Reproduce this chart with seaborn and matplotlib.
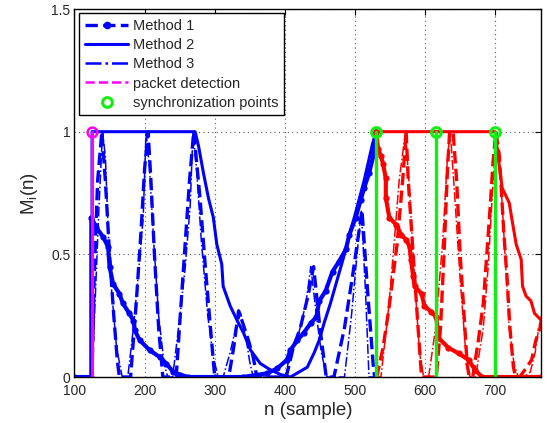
import matplotlib
matplotlib.use('Agg')
import matplotlib.pyplot as plt
from matplotlib.lines import Line2D
import seaborn as sns

# ---- data ----
# first packet (blue), n < 530
blue_m1_x = [100, 124, 124, 131, 141, 148, 150, 155, 164, 169, 178, 184, 186, 193, 207, 222, 231, 241, 250,
             262, 300, 340, 375, 389, 403, 408, 418, 427, 437, 445, 449, 458, 468, 477, 487, 492, 501, 508,
             513, 520, 527, 530]
blue_m1_y = [0, 0, 0.65, 0.61, 0.57, 0.53, 0.45, 0.38, 0.34, 0.30, 0.26, 0.23, 0.19, 0.15, 0.11, 0.08, 0.055,
             0.02, 0.01, 0.0, 0.0, 0.0, 0.015, 0.035, 0.07, 0.11, 0.15, 0.18, 0.22, 0.245, 0.31, 0.35, 0.43,
             0.47, 0.52, 0.58, 0.65, 0.72, 0.77, 0.83, 0.91, 1.0]
blue_m2_x = [100, 125, 125, 272, 277, 284, 291, 298, 303, 310, 312, 322, 332, 341, 351, 365, 379, 394, 408,
             432, 442, 449, 456, 465, 475, 483, 492, 500, 513, 525, 530]
blue_m2_y = [0, 0, 1, 1, 0.94, 0.83, 0.73, 0.65, 0.54, 0.46, 0.37, 0.29, 0.23, 0.18, 0.11, 0.055, 0.03, 0.01,
             0.0, 0.04, 0.1, 0.15, 0.22, 0.3, 0.4, 0.48, 0.58, 0.66, 0.8, 0.95, 1.0]
blue_m3_x = [100, 125, 130, 135, 140, 144, 148, 153, 160, 168, 176, 184, 192, 198, 202, 207, 213, 220, 228,
             233, 240, 250, 258, 265, 269, 274, 281, 290, 298, 305, 312, 322, 330, 337, 345, 350, 355, 400,
             410, 420, 430, 437, 445, 452, 460, 485, 495, 503, 509, 515, 520, 530]
blue_m3_y = [0, 0, 0.35, 0.7, 1.0, 0.9, 0.6, 0.35, 0.12, 0, 0, 0.2, 0.45, 0.65, 1.0, 0.85, 0.55, 0.25, 0.05,
             0, 0, 0.24, 0.45, 0.7, 1.0, 0.85, 0.55, 0.25, 0.08, 0, 0, 0.1, 0.2, 0.26, 0.15, 0.06, 0, 0,
             0.12, 0.18, 0.3, 0.45, 0.25, 0.1, 0, 0, 0.25, 0.5, 0.68, 0.35, 0, 0]
blue_d_x = [100, 125, 128, 133, 139, 144, 150, 156, 161, 164, 180, 188, 195, 200, 205, 209, 214, 220, 226,
            245, 252, 258, 264, 270, 275, 279, 286, 293, 300, 320, 327, 334, 340, 348, 355, 360, 402, 412,
            422, 433, 441, 450, 459, 470, 485, 497, 510, 518, 526, 528, 530]
blue_d_y = [0, 0, 0.4, 0.8, 1.0, 0.8, 0.5, 0.25, 0.07, 0, 0, 0.3, 0.6, 0.85, 1.0, 0.8, 0.5, 0.2, 0,
            0, 0.3, 0.55, 0.8, 1.0, 0.85, 0.73, 0.47, 0.23, 0, 0, 0.12, 0.27, 0.22, 0.15, 0.08, 0, 0, 0.12,
            0.2, 0.33, 0.45, 0.2, 0, 0, 0.2, 0.42, 0.68, 0.35, 0.05, 0, 0]

# second packet (red), n >= 530
red_m1_x = [530, 533, 537, 540, 544, 544, 549, 559, 566, 573, 578, 580, 583, 585, 595, 599, 609, 616, 619,
            633, 648, 662, 671, 681, 766]
red_m1_y = [1.0, 0.93, 0.9, 0.87, 0.81, 0.73, 0.65, 0.62, 0.58, 0.56, 0.53, 0.475, 0.41, 0.37, 0.34, 0.29,
            0.265, 0.245, 0.16, 0.12, 0.096, 0.07, 0.03, 0.0, 0.0]
red_m2_x = [530, 700, 704, 710, 720, 724, 730, 737, 739, 744, 751, 756, 766]
red_m2_y = [1, 1, 0.9, 0.77, 0.71, 0.64, 0.54, 0.48, 0.37, 0.33, 0.31, 0.26, 0.23]
red_m3_x = [530, 537, 548, 556, 563, 572, 578, 585, 592, 598, 605, 615, 625, 632, 636, 642, 650, 658, 664,
            672, 683, 690, 696, 702, 708, 714, 720, 727, 733, 740, 750, 757, 762, 766]
red_m3_y = [0, 0, 0.28, 0.55, 0.8, 1.0, 0.75, 0.4, 0.1, 0, 0, 0.2, 0.55, 0.9, 1.0, 0.75, 0.4, 0.1, 0,
            0, 0.2, 0.45, 0.75, 1.0, 0.8, 0.5, 0.2, 0.05, 0, 0, 0.02, 0.1, 0.2, 0.25]
red_d_x = [530, 531, 540, 548, 560, 568, 573, 576, 583, 590, 595, 616, 622, 627, 632, 635, 640, 645, 650,
           655, 660, 663, 668, 676, 683, 688, 693, 697, 701, 706, 712, 717, 721, 726, 729, 735, 745, 752,
           758, 766]
red_d_y = [0, 0, 0.12, 0.27, 0.54, 0.8, 1.0, 0.8, 0.5, 0.2, 0, 0, 0.2, 0.5, 0.85, 1.0, 1.0, 0.8, 0.5,
           0.28, 0.05, 0, 0, 0.15, 0.3, 0.5, 0.7, 0.88, 1.0, 0.9, 0.6, 0.4, 0.2, 0.04, 0, 0, 0.04, 0.07,
           0.15, 0.22]

packet_n = 125
sync_n = [530, 615, 700]

legend_labels = ["Method 1", "Method 2", "Method 3", "packet detection", "synchronization points"]

# ---- style ----
sns.set_theme(style="white")
plt.rcParams['font.family'] = ['Liberation Sans', 'DejaVu Sans']
plt.rcParams['mathtext.default'] = 'regular'
plt.rcParams['xtick.direction'] = 'in'
plt.rcParams['ytick.direction'] = 'in'
plt.rcParams['xtick.top'] = True
plt.rcParams['ytick.right'] = True

GREEN = '#11ee11'

fig = plt.figure(figsize=(5.49, 4.23), dpi=100)
ax = fig.add_axes([0.1357, 0.1087, 0.8506, 0.8700])


def draw(x, y, color, ls='-', lw=2.2, **kw):
    sns.lineplot(x=x, y=y, ax=ax, color=color, linestyle=ls, linewidth=lw,
                 estimator=None, sort=False, legend=False, **kw)


for c, d in [('blue', (blue_m1_x, blue_m1_y, blue_m2_x, blue_m2_y, blue_m3_x, blue_m3_y, blue_d_x, blue_d_y)),
             ('red', (red_m1_x, red_m1_y, red_m2_x, red_m2_y, red_m3_x, red_m3_y, red_d_x, red_d_y))]:
    m1x, m1y, m2x, m2y, m3x, m3y, dx, dy = d
    draw(m3x, m3y, c, ls='-.', lw=1.1)
    draw(dx, dy, c, ls='--', lw=2.4)
    draw(m2x, m2y, c, ls='-', lw=2.2)
    draw(m1x, m1y, c, ls='-', lw=3.0, marker='o', markersize=4.5, markeredgewidth=0)

# packet detection
ax.plot([packet_n, packet_n], [0, 1], color='magenta', lw=2.2)
ax.plot([packet_n], [1], 'o', mfc='none', mec='magenta', mew=1.8, ms=7)
# sync points
for s in sync_n:
    ax.plot([s, s], [0, 1], color=GREEN, lw=2.4)
ax.plot(sync_n, [1] * len(sync_n), 'o', mfc='none', mec=GREEN, mew=2.2, ms=7, ls='none')

ax.set_xlim(100, 766)
ax.set_ylim(0, 1.5)
ax.set_xticks([100, 200, 300, 400, 500, 600, 700])
ax.set_yticks([0, 0.5, 1, 1.5])
ax.set_yticklabels(['0', '0.5', '1', '1.5'])
ax.tick_params(labelsize=10, length=4, width=0.8, color='black')
ax.tick_params(axis='x', pad=5)
ax.tick_params(axis='y', pad=3)
ax.grid(True, color='0.35', linestyle=(0, (1, 3)), linewidth=0.8)
for sp in ax.spines.values():
    sp.set_color('black')
    sp.set_linewidth(1.0)

ax.set_xlabel('n (sample)', fontsize=13.5, labelpad=3)
ax.set_ylabel('M$_i$(n)', fontsize=13.5, labelpad=8)

handles = [
    Line2D([], [], color='blue', ls='--', lw=2.4, marker='.', ms=9),
    Line2D([], [], color='blue', ls='-', lw=2.2),
    Line2D([], [], color='blue', ls='-.', lw=1.8),
    Line2D([], [], color='magenta', ls='--', lw=1.8),
    Line2D([], [], color=GREEN, ls='none', marker='o', mfc='none', mec=GREEN, mew=2.2, ms=7),
]
leg = ax.legend(handles, legend_labels, loc='upper left', fontsize=10.5, numpoints=1,
                handlelength=3.0, handletextpad=0.3, labelspacing=0.35, borderpad=0.4,
                borderaxespad=0.3, fancybox=False, framealpha=1, edgecolor='black')
leg.get_frame().set_linewidth(1.0)

fig.savefig('out.png', dpi=100)
